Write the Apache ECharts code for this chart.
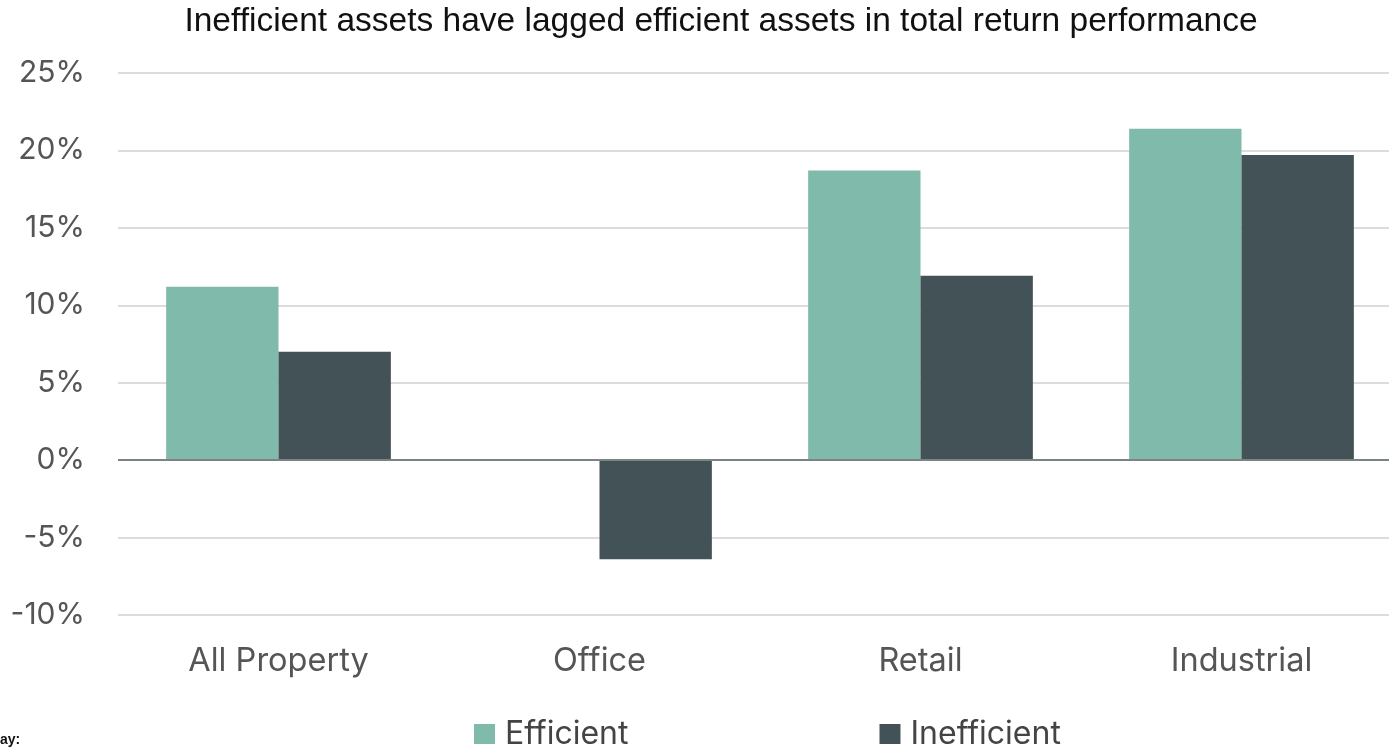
<!DOCTYPE html>
<html>
<head>
<meta charset="utf-8">
<script src="https://cdn.jsdelivr.net/npm/echarts@6/dist/echarts.min.js"></script>
<style>
html,body{margin:0;padding:0;background:#fff;}
#chart{width:1389px;height:747px;}
</style>
</head>
<body>
<div id="chart"></div>
<script>
const titleText = 'Inefficient assets have lagged efficient assets in total return performance';
const categories = ['All Property', 'Office', 'Retail', 'Industrial'];
const seriesNames = ['Efficient', 'Inefficient'];
const efficient = [11.2, 0, 18.7, 21.4];
const inefficient = [7.0, -6.4, 11.9, 19.7];
const yTicks = [-10, -5, 0, 5, 10, 15, 20, 25];

const font = 'Inter, "Noto Sans", sans-serif';
const chart = echarts.init(document.getElementById('chart'));
chart.setOption({
  animation: false,
  backgroundColor: '#ffffff',
  title: {
    text: titleText,
    left: 716, top: 0, textAlign: 'center',
    textStyle: {fontFamily: '"Liberation Sans", Arial, sans-serif', fontSize: 33.5, fontWeight: 'normal', color: '#111'}
  },
  legend: {
    left: 469, top: 713,
    itemWidth: 21, itemHeight: 20, itemGap: 251,
    icon: 'rect',
    data: seriesNames,
    textStyle: {fontFamily: font, fontSize: 32, color: '#444', padding: [0,0,0,5]}
  },
  grid: {left: 118, width: 1284, top: 73, bottom: 132, containLabel: false, outerBoundsMode: 'none'},
  xAxis: {
    type: 'category',
    data: categories,
    axisLine: {show: false},
    axisTick: {show: false},
    axisLabel: {fontFamily: font, fontSize: 32.5, color: '#555', margin: 30}
  },
  yAxis: {
    type: 'value',
    min: yTicks[0], max: yTicks[yTicks.length-1], interval: 5,
    axisLine: {show: false},
    axisTick: {show: false},
    axisLabel: {fontFamily: font, fontSize: 30, color: '#555', margin: 33, formatter: v => v + '%'},
    splitLine: {lineStyle: {color: '#dcdcdc', width: 2}}
  },
  series: [
    {
      name: seriesNames[0], type: 'bar', data: efficient,
      barGap: '0%', barCategoryGap: '30%',
      itemStyle: {color: '#7fbaab'},
      markLine: {
        silent: true, symbol: 'none', label: {show: false},
        lineStyle: {color: '#7a8484', width: 2, type: 'solid'},
        data: [{yAxis: 0}]
      }
    },
    {
      name: seriesNames[1], type: 'bar', data: inefficient,
      barGap: '0%', barCategoryGap: '30%',
      itemStyle: {color: '#425256'}
    }
  ],
  graphic: [
    {type: 'text', left: 0, top: 733, style: {text: 'ay:', fontFamily: '"Liberation Sans", Arial, sans-serif', fontSize: 14, fontWeight: 'bold', fill: '#111'}}
  ]
});
</script>
</body>
</html>
